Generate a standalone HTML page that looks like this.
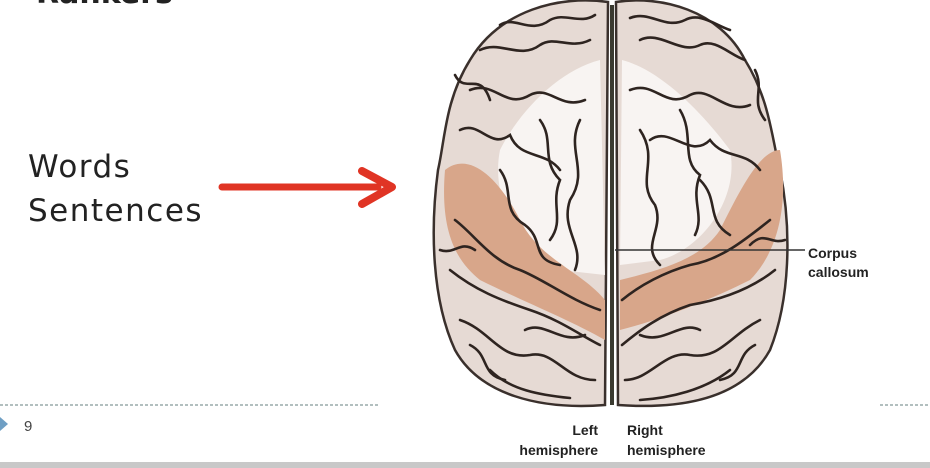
<!DOCTYPE html>
<html><head><meta charset="utf-8"><style>
html,body{margin:0;padding:0;background:#fff;}
#c{position:relative;width:930px;height:468px;overflow:hidden;background:#fff;font-family:"DejaVu Sans","Liberation Sans",sans-serif;}
.t{position:absolute;color:#222;font-size:31px;letter-spacing:1.5px;}
</style></head><body><div id="c">
<div class="t" style="left:36px;top:-24px;font-weight:bold;font-size:30px;letter-spacing:0">Rankers</div>
<div class="t" style="left:28px;top:149px">Words</div>
<div class="t" style="left:28px;top:193px">Sentences</div>
<svg width="930" height="468" style="position:absolute;left:0;top:0">
<line x1="222" y1="187" x2="378" y2="187" stroke="#e03424" stroke-width="7" stroke-linecap="round"/>
<polyline points="362,171 392,187 362,204" fill="none" stroke="#e03424" stroke-width="8" stroke-linecap="round" stroke-linejoin="round"/>
<path d="M608,2 C560,-5 500,10 470,60 C445,100 445,140 438,170 C430,230 432,300 455,350 C480,395 540,410 605,405 Z" fill="#e6dad4" stroke="#3a302c" stroke-width="2.5"/>
<path d="M616,2 C660,-5 720,10 745,60 C770,100 772,140 780,170 C792,230 790,300 770,350 C745,395 690,410 618,405 Z" fill="#e6dad4" stroke="#3a302c" stroke-width="2.5"/>
<path d="M600,60 C560,70 520,110 500,150 C490,200 520,250 560,270 L605,275 Z" fill="#f8f4f2"/>
<path d="M622,60 C660,70 700,110 730,150 C740,200 700,250 660,260 L620,265 Z" fill="#f8f4f2"/>
<path d="M445,170 C470,150 500,180 520,220 C540,260 580,270 605,300 L605,340 C570,320 520,300 480,280 C455,260 440,230 445,170 Z" fill="#d8a68a"/>
<path d="M780,150 C760,150 740,190 720,230 C700,260 660,270 620,280 L620,330 C660,320 710,300 750,280 C775,255 790,210 780,150 Z" fill="#d8a68a"/>
<g fill="none" stroke="#2e2420" stroke-width="2.6" stroke-linecap="round">
<path d="M480,50 C500,40 520,60 540,45 C555,35 570,50 590,40"/>
<path d="M500,25 C515,15 530,35 550,20 C565,12 580,25 595,15"/>
<path d="M470,90 C495,80 505,110 530,95 C550,85 560,110 585,100"/>
<path d="M460,130 C480,120 490,150 510,135 C520,160 545,150 560,170"/>
<path d="M455,75 C465,95 480,70 490,100"/>
<path d="M500,170 C515,190 500,210 525,225 C545,240 530,260 560,265"/>
<path d="M580,120 C565,150 590,170 570,200 C560,230 585,245 575,270"/>
<path d="M540,120 C555,140 540,160 560,180 C550,205 565,220 550,240"/>
<path d="M455,220 C475,235 490,260 520,270 C545,280 570,300 600,310"/>
<path d="M450,270 C475,290 500,300 530,310 C560,320 580,335 600,345"/>
<path d="M440,250 C455,255 460,240 475,250"/>
<path d="M460,320 C490,330 500,360 530,355 C555,350 565,380 595,380"/>
<path d="M470,345 C490,355 480,375 505,380"/>
<path d="M490,370 C510,390 540,395 570,398"/>
<path d="M525,330 C545,320 560,345 585,335"/>
<path d="M640,40 C660,30 680,55 700,45 C715,38 730,55 745,60"/>
<path d="M630,18 C650,10 665,30 685,20 C700,12 715,25 730,30"/>
<path d="M630,90 C655,80 665,110 690,95 C710,85 725,115 750,105"/>
<path d="M650,140 C670,125 690,160 710,140 C725,160 745,150 760,170"/>
<path d="M755,70 C765,90 750,100 765,120"/>
<path d="M640,130 C660,160 635,180 655,205 C665,230 640,245 660,265"/>
<path d="M680,110 C695,135 680,160 700,175 C690,200 705,215 695,235"/>
<path d="M700,180 C720,200 705,220 730,235"/>
<path d="M770,220 C745,240 720,260 690,265 C665,272 640,285 622,300"/>
<path d="M775,270 C750,290 720,300 690,305 C660,315 640,330 622,345"/>
<path d="M785,240 C770,245 765,230 750,245"/>
<path d="M760,320 C730,335 720,360 690,355 C665,350 650,380 625,380"/>
<path d="M755,345 C735,355 745,375 720,380"/>
<path d="M730,370 C705,390 670,398 640,400"/>
<path d="M700,330 C680,320 665,345 640,335"/>
</g>
<line x1="612" y1="5" x2="612" y2="405" stroke="#3a3a30" stroke-width="4"/>
<line x1="615" y1="250" x2="805" y2="250" stroke="#333" stroke-width="1.5"/>
<text x="808" y="258" font-family="Liberation Sans,sans-serif" font-weight="bold" font-size="14" fill="#222">Corpus</text>
<text x="808" y="277" font-family="Liberation Sans,sans-serif" font-weight="bold" font-size="14" fill="#222">callosum</text>
<text x="598" y="435" text-anchor="end" font-family="Liberation Sans,sans-serif" font-weight="bold" font-size="14" fill="#222">Left</text>
<text x="598" y="455" text-anchor="end" font-family="Liberation Sans,sans-serif" font-weight="bold" font-size="14" fill="#222">hemisphere</text>
<text x="627" y="435" font-family="Liberation Sans,sans-serif" font-weight="bold" font-size="14" fill="#222">Right</text>
<text x="627" y="455" font-family="Liberation Sans,sans-serif" font-weight="bold" font-size="14" fill="#222">hemisphere</text>
<line x1="0" y1="405" x2="378" y2="405" stroke="#9aa" stroke-width="1.5" stroke-dasharray="3,2"/>
<line x1="880" y1="405" x2="930" y2="405" stroke="#9aa" stroke-width="1.5" stroke-dasharray="3,2"/>
<polygon points="0,417 8,424 0,431" fill="#6f9fc4"/>
<text x="24" y="431" font-family="Liberation Sans,sans-serif" font-size="15" fill="#444">9</text>
<rect x="0" y="462" width="930" height="6" fill="#c8c8c8"/>
</svg>
</div></body></html>
